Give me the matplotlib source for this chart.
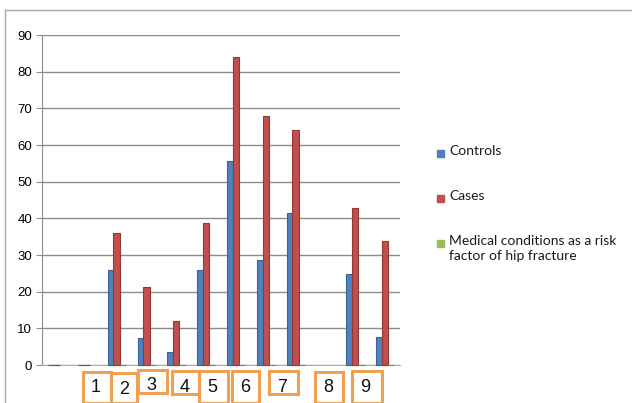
import matplotlib.pyplot as plt
import numpy as np
from matplotlib.patches import Rectangle

# data (12 category slots, no category labels on the axis)
controls = [0, 0, 26, 7.3, 3.5, 26, 55.5, 28.6, 41.4, np.nan, 24.7, 7.7]
cases = [0, 0, 36, 21.4, 12, 38.8, 84, 68, 64, np.nan, 42.7, 33.8]
medical = [np.nan, np.nan, 0, 0, 0, 0, 0, 0, 0, np.nan, 0, 0]
series_names = ["Controls", "Cases",
                "Medical conditions as a risk\nfactor of hip fracture"]
box_labels = ["1", "2", "3", "4", "5", "6", "7", "8", "9"]

colors = ["#4F81BD", "#C0504D", "#9BBB59"]
edges = ["#3A6496", "#953735", "#77933C"]

W, H = 632, 403
fig = plt.figure(figsize=(W / 100, H / 100), dpi=100)
ax = fig.add_axes([42 / W, 1 - 365 / H, 358 / W, 330 / H])

x = np.arange(len(controls))
offsets = [-0.19, 0.0, 0.21]
for vals, off, c, ec in zip([controls, cases, medical], offsets, colors, edges):
    ax.bar(x + off, vals, width=0.21, color=c, edgecolor=ec, linewidth=0.8,
           clip_on=False, zorder=3)

ax.set_xlim(-0.5, len(controls) - 0.5)
ax.set_ylim(0, 90)
ax.set_yticks(np.arange(0, 91, 10))
ax.set_xticks([])
ax.grid(axis="y", color="#8C8C8C", linewidth=1, zorder=0)
for s in ["top", "right"]:
    ax.spines[s].set_visible(False)
ax.spines["left"].set_color("#8C8C8C")
ax.spines["bottom"].set_color("#B0B0B0")
ax.tick_params(axis="y", length=4, color="#8C8C8C", labelsize=9.5, pad=3)
for t in ax.get_yticklabels():
    t.set_family("Liberation Sans")

# outer frame of the pasted chart
fig.add_artist(plt.Line2D([5 / W, 1], [1 - 10 / H, 1 - 10 / H],
                          color="#A8A8A8", lw=1))
fig.add_artist(plt.Line2D([5 / W, 5 / W], [1 - 10 / H, 0],
                          color="#A8A8A8", lw=1))

# legend drawn by hand
leg_y = [153, 198, 243]
for name, c, yy in zip(series_names, colors, leg_y):
    fig.add_artist(Rectangle((437 / W, 1 - (yy + 4) / H), 7 / W, 7 / H,
                             color=c, transform=fig.transFigure))
    fig.text(449 / W, 1 - (yy - 8) / H, name, family="Lato", fontsize=10,
             va="top", ha="left", linespacing=1.35, color="#1A1A1A")

# orange boxes with numbers below the axis
boxes = [(83, 372, 111, 403), (111, 373, 137, 403), (138, 370, 167, 393),
         (172, 371, 199, 394), (199, 371, 228, 403), (232, 371, 259, 403),
         (269, 371, 298, 394), (315, 372, 343, 403), (352, 371, 382, 403)]
for lab, (x0, y0, x1, y1) in zip(box_labels, boxes):
    fig.add_artist(Rectangle((x0 / W, 1 - y1 / H), (x1 - x0) / W, (y1 - y0) / H,
                             fill=False, edgecolor="#F0A050", lw=2.2,
                             transform=fig.transFigure, clip_on=False))
    fig.text((x0 + 8) / W, 1 - (y0 + 16) / H, lab, family="Liberation Sans",
             fontsize=13, va="center", ha="left", color="#111111")

fig.savefig("out.png", dpi=100)
